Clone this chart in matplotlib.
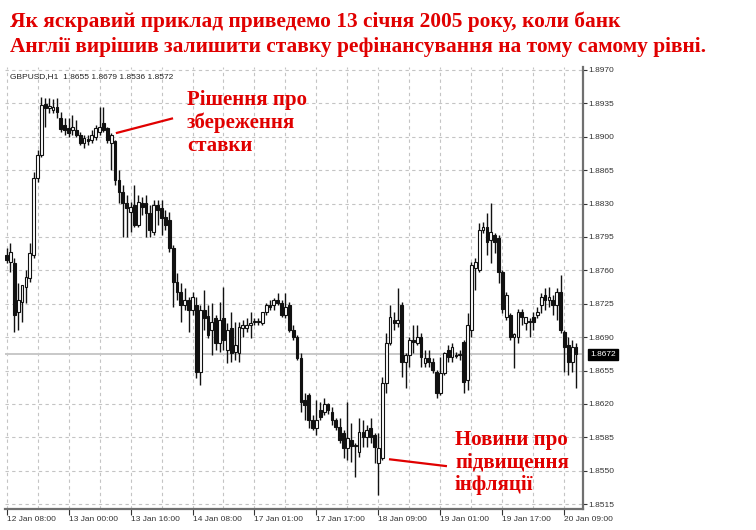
import matplotlib
matplotlib.use("Agg")
import matplotlib.pyplot as plt
from matplotlib.ticker import MultipleLocator, FixedLocator
import matplotlib.transforms as mtransforms

# GBPUSD H1
opens = [1.8776, 1.8769, 1.8768, 1.8716, 1.8727, 1.8743, 1.8752, 1.8776, 1.8857, 1.8881,
         1.8934, 1.8930, 1.8928, 1.8931, 1.8920, 1.8912, 1.8909, 1.8907, 1.8907, 1.8902,
         1.8893, 1.8898, 1.8897, 1.8900, 1.8905, 1.8914, 1.8909, 1.8893, 1.8895, 1.8855,
         1.8842, 1.8831, 1.8821, 1.8828, 1.8808, 1.8831, 1.8831, 1.8820, 1.8800, 1.8828,
         1.8825, 1.8816, 1.8813, 1.8783, 1.8748, 1.8737, 1.8724, 1.8729, 1.8718, 1.8724,
         1.8653, 1.8718, 1.8712, 1.8697, 1.8710, 1.8684, 1.8710, 1.8677, 1.8700, 1.8674,
         1.8673, 1.8700, 1.8700, 1.8703, 1.8706, 1.8706, 1.8705, 1.8716, 1.8724, 1.8724,
         1.8729, 1.8726, 1.8713, 1.8724, 1.8697, 1.8690, 1.8668, 1.8624, 1.8629, 1.8603,
         1.8595, 1.8614, 1.8612, 1.8620, 1.8612, 1.8603, 1.8596, 1.8590, 1.8574, 1.8582,
         1.8576, 1.8570, 1.8591, 1.8585, 1.8595, 1.8587, 1.8558, 1.8563, 1.8642, 1.8684,
         1.8708, 1.8705, 1.8724, 1.8664, 1.8671, 1.8687, 1.8684, 1.8690, 1.8663, 1.8668,
         1.8664, 1.8653, 1.8631, 1.8652, 1.8677, 1.8669, 1.8671, 1.8671, 1.8685, 1.8645,
         1.8697, 1.8762, 1.8760, 1.8802, 1.8805, 1.8792, 1.8797, 1.8794, 1.8758, 1.8711,
         1.8713, 1.8690, 1.8690, 1.8716, 1.8705, 1.8706, 1.8711, 1.8713, 1.8724, 1.8734,
         1.8729, 1.8729, 1.8724, 1.8737, 1.8695, 1.8682, 1.8664, 1.8680]
highs = [1.8783, 1.8789, 1.8773, 1.8747, 1.8739, 1.8760, 1.8789, 1.8863, 1.8886, 1.8942,
         1.8941, 1.8941, 1.8939, 1.8941, 1.8926, 1.8920, 1.8920, 1.8923, 1.8918, 1.8905,
         1.8902, 1.8902, 1.8907, 1.8912, 1.8931, 1.8931, 1.8910, 1.8904, 1.8897, 1.8865,
         1.8849, 1.8839, 1.8832, 1.8849, 1.8839, 1.8837, 1.8839, 1.8828, 1.8834, 1.8834,
         1.8834, 1.8823, 1.8821, 1.8787, 1.8757, 1.8747, 1.8741, 1.8732, 1.8737, 1.8732,
         1.8724, 1.8739, 1.8724, 1.8726, 1.8713, 1.8727, 1.8743, 1.8705, 1.8716, 1.8706,
         1.8706, 1.8708, 1.8710, 1.8716, 1.8710, 1.8710, 1.8716, 1.8726, 1.8729, 1.8731,
         1.8736, 1.8729, 1.8736, 1.8727, 1.8703, 1.8692, 1.8673, 1.8631, 1.8632, 1.8608,
         1.8624, 1.8622, 1.8626, 1.8621, 1.8617, 1.8605, 1.8605, 1.8593, 1.8622, 1.8600,
         1.8579, 1.8605, 1.8603, 1.8598, 1.8605, 1.8590, 1.8590, 1.8648, 1.8694, 1.8724,
         1.8716, 1.8741, 1.8727, 1.8673, 1.8690, 1.8703, 1.8703, 1.8694, 1.8677, 1.8677,
         1.8668, 1.8656, 1.8669, 1.8674, 1.8682, 1.8684, 1.8674, 1.8677, 1.8687, 1.8715,
         1.8769, 1.8773, 1.8810, 1.8811, 1.8820, 1.8831, 1.8799, 1.8797, 1.8760, 1.8737,
         1.8715, 1.8694, 1.8720, 1.8720, 1.8711, 1.8710, 1.8716, 1.8722, 1.8736, 1.8741,
         1.8743, 1.8734, 1.8741, 1.8755, 1.8697, 1.8690, 1.8687, 1.8684]
lows = [1.8768, 1.8758, 1.8695, 1.8697, 1.8706, 1.8726, 1.8748, 1.8773, 1.8853, 1.8879,
        1.8910, 1.8925, 1.8925, 1.8920, 1.8905, 1.8902, 1.8900, 1.8902, 1.8900, 1.8891,
        1.8888, 1.8891, 1.8893, 1.8897, 1.8902, 1.8905, 1.8893, 1.8865, 1.8849, 1.8831,
        1.8795, 1.8795, 1.8800, 1.8805, 1.8805, 1.8818, 1.8795, 1.8795, 1.8797, 1.8808,
        1.8797, 1.8802, 1.8779, 1.8722, 1.8729, 1.8706, 1.8718, 1.8695, 1.8713, 1.8647,
        1.8640, 1.8697, 1.8689, 1.8671, 1.8677, 1.8674, 1.8677, 1.8663, 1.8664, 1.8666,
        1.8664, 1.8690, 1.8695, 1.8689, 1.8703, 1.8703, 1.8703, 1.8713, 1.8718, 1.8718,
        1.8724, 1.8711, 1.8710, 1.8695, 1.8687, 1.8666, 1.8612, 1.8603, 1.8595, 1.8593,
        1.8587, 1.8603, 1.8608, 1.8610, 1.8598, 1.8593, 1.8579, 1.8563, 1.8561, 1.8559,
        1.8543, 1.8564, 1.8575, 1.8575, 1.8579, 1.8558, 1.8525, 1.8561, 1.8631, 1.8682,
        1.8697, 1.8701, 1.8648, 1.8637, 1.8659, 1.8673, 1.8682, 1.8659, 1.8659, 1.8659,
        1.8652, 1.8626, 1.8629, 1.8650, 1.8664, 1.8664, 1.8668, 1.8666, 1.8632, 1.8635,
        1.8690, 1.8739, 1.8758, 1.8799, 1.8776, 1.8768, 1.8778, 1.8747, 1.8715, 1.8708,
        1.8687, 1.8658, 1.8684, 1.8703, 1.8697, 1.8690, 1.8697, 1.8710, 1.8715, 1.8718,
        1.8722, 1.8713, 1.8708, 1.8694, 1.8653, 1.8650, 1.8653, 1.8637]
closes = [1.8771, 1.8779, 1.8713, 1.8729, 1.8745, 1.8753, 1.8778, 1.8857, 1.8881, 1.8933,
          1.8930, 1.8932, 1.8931, 1.8926, 1.8908, 1.8907, 1.8904, 1.8910, 1.8902, 1.8893,
          1.8899, 1.8896, 1.8902, 1.8909, 1.8910, 1.8907, 1.8897, 1.8902, 1.8855, 1.8842,
          1.8831, 1.8825, 1.8826, 1.8808, 1.8832, 1.8826, 1.8820, 1.8802, 1.8828, 1.8823,
          1.8815, 1.8808, 1.8783, 1.8748, 1.8737, 1.8724, 1.8729, 1.8718, 1.8732, 1.8653,
          1.8718, 1.8710, 1.8692, 1.8706, 1.8684, 1.8708, 1.8687, 1.8697, 1.8673, 1.8682,
          1.8701, 1.8703, 1.8703, 1.8705, 1.8707, 1.8707, 1.8716, 1.8724, 1.8722, 1.8729,
          1.8726, 1.8713, 1.8722, 1.8697, 1.8690, 1.8668, 1.8622, 1.8619, 1.8603, 1.8595,
          1.8603, 1.8606, 1.8620, 1.8614, 1.8603, 1.8596, 1.8582, 1.8574, 1.8584, 1.8576,
          1.8577, 1.8591, 1.8585, 1.8593, 1.8585, 1.8575, 1.8574, 1.8642, 1.8684, 1.8711,
          1.8705, 1.8708, 1.8664, 1.8671, 1.8687, 1.8685, 1.8690, 1.8669, 1.8668, 1.8664,
          1.8656, 1.8631, 1.8652, 1.8673, 1.8669, 1.8680, 1.8670, 1.8672, 1.8643, 1.8703,
          1.8766, 1.8769, 1.8802, 1.8805, 1.8790, 1.8800, 1.8790, 1.8758, 1.8720, 1.8734,
          1.8690, 1.8693, 1.8716, 1.8711, 1.8711, 1.8707, 1.8706, 1.8716, 1.8732, 1.8729,
          1.8732, 1.8724, 1.8737, 1.8697, 1.8680, 1.8664, 1.8680, 1.8672]

time_labels = ["12 Jan 08:00", "13 Jan 00:00", "13 Jan 16:00", "14 Jan 08:00", "17 Jan 01:00",
               "17 Jan 17:00", "18 Jan 09:00", "19 Jan 01:00", "19 Jan 17:00", "20 Jan 09:00"]
bars_per_label = 16
price_ticks = [1.8515, 1.8550, 1.8585, 1.8620, 1.8655, 1.8690, 1.8725, 1.8760,
               1.8795, 1.8830, 1.8865, 1.8900, 1.8935, 1.8970]

header = "GBPUSD,H1  1.8655 1.8679 1.8536 1.8572"
title_lines = ["Як яскравий приклад приведемо 13 січня 2005 року, коли банк",
               "Англії вирішив залишити ставку рефінансування на тому самому рівні."]
note_decision = "Рішення про\nзбереження\nставки"
note_inflation = "Новини про\nпідвищення\nінфляції"
# pointer lines: (bar, price) endpoints
decision_line = ([28.5, 42.7], [1.8904, 1.8919])
inflation_line = ([99.0, 113.4], [1.8562, 1.8555])

RED = "#e00000"
W, H = 756, 530


def px(x, y):
    return x / W, 1 - y / H


fig = plt.figure(figsize=(W / 100, H / 100), dpi=100)
fig.patch.set_facecolor("white")

left, right, top, bottom = 5, 583, 67, 509
ax = fig.add_axes([left / W, 1 - bottom / H, (right - left) / W, (bottom - top) / H])

n = len(closes)
xs = list(range(n))

# candles
ax.vlines(xs, lows, highs, color="#111111", linewidth=1.0, zorder=3)
body_low = [min(o, c) for o, c in zip(opens, closes)]
body_h = [max(abs(c - o), 0.00004) for o, c in zip(opens, closes)]
face = ["white" if c >= o else "#111111" for o, c in zip(opens, closes)]
ax.bar(xs, body_h, bottom=body_low, width=0.72, color=face, edgecolor="#111111",
       linewidth=0.8, zorder=4)

# last price line
ax.axhline(closes[-1], color="#c8c8c8", linewidth=1.4, zorder=1)

ax.set_xlim(-0.4, 148.8)
ax.set_ylim(1.8510, 1.8973)

ax.yaxis.tick_right()
ax.yaxis.set_major_locator(FixedLocator(price_ticks))
ax.set_yticklabels([f"{p:.4f}" for p in price_ticks])
ax.xaxis.set_major_locator(FixedLocator([i * bars_per_label for i in range(len(time_labels))]))
ax.set_xticklabels(time_labels, ha="left")
ax.xaxis.set_minor_locator(MultipleLocator(8))

ax.grid(True, which="both", axis="x", color="#c4c4c4", linestyle=(0, (3, 3)), linewidth=0.8)
ax.grid(True, which="major", axis="y", color="#c4c4c4", linestyle=(0, (3, 3)), linewidth=0.8)
ax.set_axisbelow(True)

for side in ["top", "left"]:
    ax.spines[side].set_visible(False)
for side in ["bottom", "right"]:
    ax.spines[side].set_color("#707070")
    ax.spines[side].set_linewidth(1.6)

ax.tick_params(axis="y", which="major", direction="out", length=3, pad=1, width=0.8,
               colors="#333333", labelsize=6)
ax.tick_params(axis="x", which="major", direction="out", length=4, pad=1, width=0.8,
               colors="#333333", labelsize=6)
ax.tick_params(axis="x", which="minor", length=0)
for lab in ax.get_xticklabels() + ax.get_yticklabels():
    lab.set_fontfamily("Liberation Sans")

# current price tag
trans = mtransforms.blended_transform_factory(ax.transAxes, ax.transData)
ax.text(1.012, closes[-1], f"{closes[-1]:.4f}", transform=trans, ha="left", va="center",
        fontsize=6, color="white", family="Liberation Sans",
        bbox=dict(boxstyle="square,pad=0.25", facecolor="black", edgecolor="black"))

# header
fig.text(*px(10, 77), header, fontsize=6, color="#222222", family="Liberation Sans",
         va="center", ha="left")

# title
fig.text(*px(10, 22), title_lines[0], fontsize=15.4, fontweight="bold", color=RED,
         family="Liberation Serif", va="center", ha="left")
fig.text(*px(10, 47), title_lines[1], fontsize=15.4, fontweight="bold", color=RED,
         family="Liberation Serif", va="center", ha="left")

# notes
fig.text(*px(187, 90), note_decision, fontsize=15, fontweight="bold", color=RED,
         family="Liberation Serif", va="top", ha="left", linespacing=1.18)
fig.text(*px(455, 430), note_inflation, fontsize=15, fontweight="bold", color=RED,
         family="Liberation Serif", va="top", ha="left", linespacing=1.18)
ax.plot(*decision_line, color=RED, linewidth=1.6, zorder=5)
ax.plot(*inflation_line, color=RED, linewidth=1.6, zorder=5)

fig.savefig("out.png", dpi=100, facecolor="white")
